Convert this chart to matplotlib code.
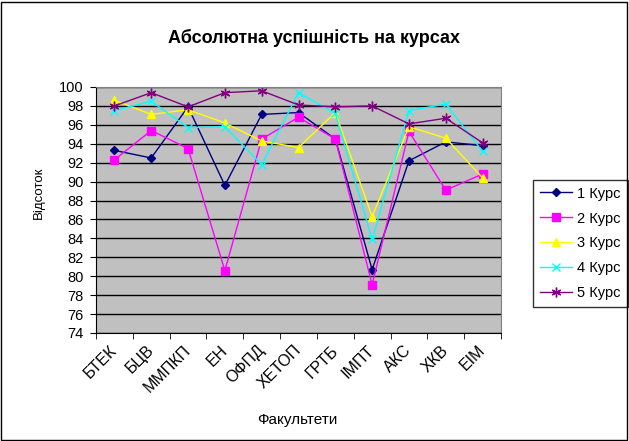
import matplotlib
matplotlib.use("Agg")
import matplotlib.pyplot as plt
import matplotlib.transforms as mtransforms
from matplotlib.patches import Rectangle

plt.rcParams['font.family'] = ['Liberation Sans', 'DejaVu Sans']

faculties = ['БТЕК', 'БЦВ', 'ММПКП', 'ЕН', 'ОФПД', 'ХЕТОП', 'ГРТБ', 'ІМПТ', 'АКС', 'ХКВ', 'ЕІМ']
kurs1 = [93.3, 92.5, 97.9, 89.6, 97.1, 97.3, 94.5, 80.7, 92.2, 94.2, 93.8]
kurs2 = [92.3, 95.4, 93.5, 80.6, 94.5, 96.8, 94.5, 79.1, 95.3, 89.1, 90.8]
kurs3 = [98.6, 97.1, 97.6, 96.2, 94.3, 93.6, 97.3, 86.3, 95.8, 94.6, 90.4]
kurs4 = [97.5, 98.5, 95.7, 95.8, 91.8, 99.4, 97.2, 83.9, 97.5, 98.2, 93.2]
kurs5 = [98.0, 99.4, 97.9, 99.4, 99.6, 98.1, 97.9, 98.0, 96.1, 96.7, 94.1]

series = [
    ('1 Курс', kurs1, '#000080', 'D', 4),
    ('2 Курс', kurs2, '#FF00FF', 's', 6),
    ('3 Курс', kurs3, '#FFFF00', '^', 6),
    ('4 Курс', kurs4, '#00FFFF', 'x', 6),
    ('5 Курс', kurs5, '#800080', (6, 2, 0), 7),
]

fig = plt.figure(figsize=(6.29, 4.41), dpi=100)
ax = fig.add_axes([96/629, 1-333/441, 405/629, 246/441])
ax.set_facecolor('#C0C0C0')

x = list(range(len(faculties)))
for name, vals, col, mk, ms in series:
    ax.plot(x, vals, color=col, lw=1, marker=mk, markersize=ms,
            markerfacecolor=col, markeredgecolor=col, label=name)

ax.set_xlim(-0.5, len(faculties) - 0.5)
ax.set_ylim(74, 100)
ax.set_yticks(range(74, 101, 2))
ax.yaxis.grid(True, color='black', lw=1)
ax.set_axisbelow(True)
ax.set_xticks(x)
ax.set_xticklabels(faculties, rotation=45, ha='right', rotation_mode='anchor', fontsize=11.5)
ax.tick_params(axis='x', length=0, pad=7)
shift = mtransforms.ScaledTranslation(-5/100, 0, fig.dpi_scale_trans)
for lbl in ax.get_xticklabels():
    lbl.set_transform(lbl.get_transform() + shift)
ax.set_xticks([i - 0.5 for i in range(len(faculties) + 1)], minor=True)
ax.tick_params(axis='x', which='minor', length=4, direction='out')
ax.tick_params(axis='y', labelsize=10.5, length=4, direction='out', pad=5)
for s in ['top', 'right']:
    ax.spines[s].set_color('#808080')

ax.set_xlabel('Факультети', fontsize=11)
ax.xaxis.set_label_coords((297.5 - 96) / 405, (333 - 420) / 246)
ax.xaxis.label.set_va('center')
ax.set_ylabel('Відсоток', fontsize=9.5)
ax.yaxis.set_label_coords((39 - 96) / 405, (333 - 193) / 246)
ax.yaxis.label.set_va('center')
fig.text(0.5 + 0.0, 1 - 38/441, 'Абсолютна успішність на курсах',
         ha='center', va='center', fontsize=13, fontweight='bold')

leg = ax.legend(loc='upper left', bbox_to_anchor=(533/629, 1 - 180/441),
                bbox_transform=fig.transFigure, frameon=True, fancybox=False,
                fontsize=10.5, handlelength=2.2, labelspacing=0.75, borderpad=0.45,
                borderaxespad=0, handletextpad=0.4)
leg.get_frame().set_edgecolor('black')
leg.get_frame().set_linewidth(1)

fig.patches.append(Rectangle((1/629, 1/441), 626/629, 438/441, transform=fig.transFigure,
                             fill=False, edgecolor='black', lw=1))

fig.savefig('out.png', dpi=100)
